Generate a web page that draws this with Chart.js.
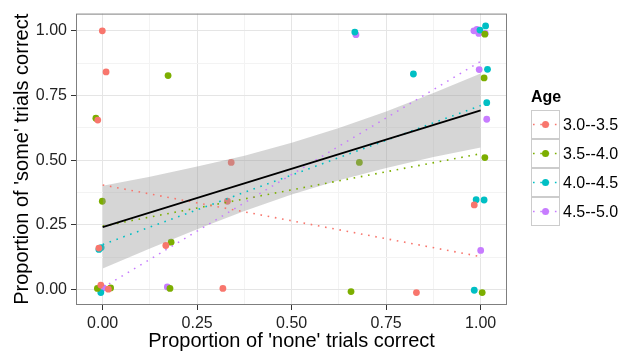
<!DOCTYPE html>
<html>
<head>
<meta charset="utf-8">
<script src="https://cdn.jsdelivr.net/npm/chart.js@4"></script>
<style>
  body { margin: 0; background: #fff; font-family: 'Liberation Sans', Arial, sans-serif; }
  #wrap { position: relative; width: 627px; height: 354px; }
  #legend { position: absolute; left: 0; top: 0; }
  .legendTitle { position: absolute; left: 531px; top: 87px; font-size: 16px; font-weight: bold; line-height: 20px; color: #000; }
  .key { position: absolute; left: 531px; width: 29px; height: 29px; box-sizing: border-box; border: 1px solid #cccccc; background: #fff; }
  .key svg { position: absolute; left: -1px; top: -1px; }
  .keyLabel { position: absolute; left: 563px; height: 29px; line-height: 29px; font-size: 16px; color: #000; white-space: nowrap; }
</style>
</head>
<body>
<div id="wrap">
  <canvas id="chart" width="627" height="354"></canvas>
  <div id="legend"></div>
</div>
<script>
const ctx = document.getElementById('chart');
const legendDiv = document.getElementById('legend');

const ageGroups = ['3.0--3.5', '3.5--4.0', '4.0--4.5', '4.5--5.0'];
const groupColours = ['#F8766D', '#7CAE00', '#00BFC4', '#C77CFF'];

// jittered points: x = 'none' correct, y = 'some' correct
const none30 = [-0.001, 0.009, -0.013, -0.010, -0.005, 0.015, 0.167, 0.330, 0.340, 0.318, 0.830, 0.983];
const some30 = [1.000, 0.841, 0.655, 0.160, 0.017, 0.001, 0.170, 0.341, 0.491, 0.004, -0.012, 0.327];

const none35 = [0.173, -0.018, -0.001, -0.014, 0.021, 0.181, 0.178, 0.679, 0.657, 1.011, 1.004, 1.009, 1.011];
const some35 = [0.827, 0.662, 0.341, 0.004, 0.006, 0.183, 0.004, 0.491, -0.008, 0.510, -0.012, 0.818, 0.987];

const none40 = [-0.010, -0.004, -0.005, 0.667, 0.822, 1.013, 0.998, 1.018, 1.016, 0.988, 1.009, 0.983];
const some40 = [0.155, 0.162, -0.012, 0.995, 0.833, 1.019, 1.003, 0.851, 0.722, 0.347, 0.346, -0.003];

const none45 = [0.670, 0.982, 0.990, 0.995, 1.012, 0.996, 1.016, 1.000, 0.002, 0.171];
const some45 = [0.985, 1.000, 1.005, 0.990, 0.990, 0.850, 0.658, 0.151, 0.006, 0.010];

// fitted lines per group (value at x=0 and x=1)
const fitAtZero = [0.404, 0.245, 0.174, 0.007];
const fitAtOne = [0.127, 0.525, 0.711, 0.882];

// overall fit with its confidence band
const overallFit = [0.241, 0.692];
const bandX = [0, 0.125, 0.25, 0.375, 0.5, 0.625, 0.75, 0.875, 1];
const bandLow = [0.081, 0.158, 0.233, 0.303, 0.367, 0.422, 0.470, 0.512, 0.549];
const bandHigh = [0.401, 0.436, 0.475, 0.517, 0.567, 0.624, 0.688, 0.760, 0.835];

const majorTicks = [0, 0.25, 0.5, 0.75, 1];
const minorTicks = [0.125, 0.375, 0.625, 0.875];

const pointSets = [[none30, some30], [none35, some35], [none40, some40], [none45, some45]];

const isMajor = v => majorTicks.some(m => Math.abs(m - v) < 1e-9);

const datasets = [];
pointSets.forEach(([xs, ys], i) => {
    datasets.push({
        label: ageGroups[i],
        data: xs.map((x, j) => ({x: x, y: ys[j]})),
        backgroundColor: groupColours[i],
        borderWidth: 0,
        pointRadius: 3.4,
        order: 3
    });
});

const lowIndex = datasets.length;
datasets.push({
    data: bandX.map((x, j) => ({x: x, y: bandLow[j]})),
    showLine: true,
    borderWidth: 0,
    pointRadius: 0,
    fill: false,
    order: 2
});
datasets.push({
    data: bandX.map((x, j) => ({x: x, y: bandHigh[j]})),
    showLine: true,
    borderWidth: 0,
    pointRadius: 0,
    backgroundColor: 'rgba(153,153,153,0.4)',
    fill: {target: lowIndex},
    order: 2
});

ageGroups.forEach((g, i) => {
    datasets.push({
        data: [{x: 0, y: fitAtZero[i]}, {x: 1, y: fitAtOne[i]}],
        showLine: true,
        borderColor: groupColours[i],
        borderWidth: 1.6,
        borderDash: [1.6, 5.7],
        pointRadius: 0,
        order: 1
    });
});

datasets.push({
    data: [{x: 0, y: overallFit[0]}, {x: 1, y: overallFit[1]}],
    showLine: true,
    borderColor: '#000',
    borderWidth: 1.8,
    pointRadius: 0,
    order: 0
});

const panelBorder = {
    id: 'panelBorder',
    afterDraw(chart) {
        const {ctx, chartArea} = chart;
        ctx.save();
        ctx.strokeStyle = '#7f7f7f';
        ctx.lineWidth = 1;
        ctx.strokeRect(chartArea.left + 0.5, chartArea.top + 0.5,
            chartArea.right - chartArea.left - 1, chartArea.bottom - chartArea.top - 1);
        ctx.restore();
    }
};

const axisOptions = (min, max, title, titlePadding) => ({
    type: 'linear',
    min: min,
    max: max,
    afterBuildTicks: scale => {
        scale.ticks = majorTicks.concat(minorTicks).sort((a, b) => a - b).map(v => ({value: v}));
    },
    ticks: {
        autoSkip: false,
        maxRotation: 0,
        padding: 4,
        color: '#222',
        font: {family: "'Liberation Sans', Arial, sans-serif", size: 16},
        callback: v => isMajor(v) ? v.toFixed(2) : ''
    },
    grid: {
        color: c => (c.tick && isMajor(c.tick.value)) ? '#e5e5e5' : '#f3f3f3',
        tickColor: c => (c.tick && isMajor(c.tick.value)) ? '#333' : 'rgba(0,0,0,0)',
        tickLength: 5,
        lineWidth: 1
    },
    border: {display: false},
    title: {
        display: true,
        text: title,
        color: '#000',
        font: {family: "'Liberation Sans', Arial, sans-serif", size: 20},
        padding: titlePadding
    }
});

const xAxis = axisOptions(-0.0706, 1.0696, "Proportion of 'none' trials correct", {top: 0, bottom: 1});
xAxis.afterFit = scale => { scale.height = 49; };
const yAxis = axisOptions(-0.060, 1.0665, "Proportion of 'some' trials correct", {top: 10, bottom: 0});
yAxis.afterFit = scale => { scale.width = 76; };

const chart = new Chart(ctx, {
    type: 'scatter',
    data: {datasets: datasets},
    options: {
        responsive: false,
        animation: false,
        layout: {padding: {top: 12, right: 120, left: 0, bottom: 0}},
        plugins: {legend: {display: false}, tooltip: {enabled: false}},
        scales: {x: xAxis, y: yAxis}
    },
    plugins: [panelBorder]
});

// legend
const legendTitle = document.createElement('div');
legendTitle.className = 'legendTitle';
legendTitle.textContent = 'Age';
legendDiv.appendChild(legendTitle);

ageGroups.forEach((g, i) => {
    const top = 110 + i * 29;
    const key = document.createElement('div');
    key.className = 'key';
    key.style.top = top + 'px';
    key.innerHTML = '<svg width="29" height="29">' +
        '<line x1="2" y1="14.5" x2="27" y2="14.5" stroke="' + groupColours[i] + '" stroke-width="1.6" stroke-dasharray="1.6 5.7"/>' +
        '<circle cx="14.5" cy="14.5" r="3.5" fill="' + groupColours[i] + '"/></svg>';
    legendDiv.appendChild(key);

    const label = document.createElement('div');
    label.className = 'keyLabel';
    label.style.top = top + 'px';
    label.textContent = g;
    legendDiv.appendChild(label);
});
</script>
</body>
</html>
